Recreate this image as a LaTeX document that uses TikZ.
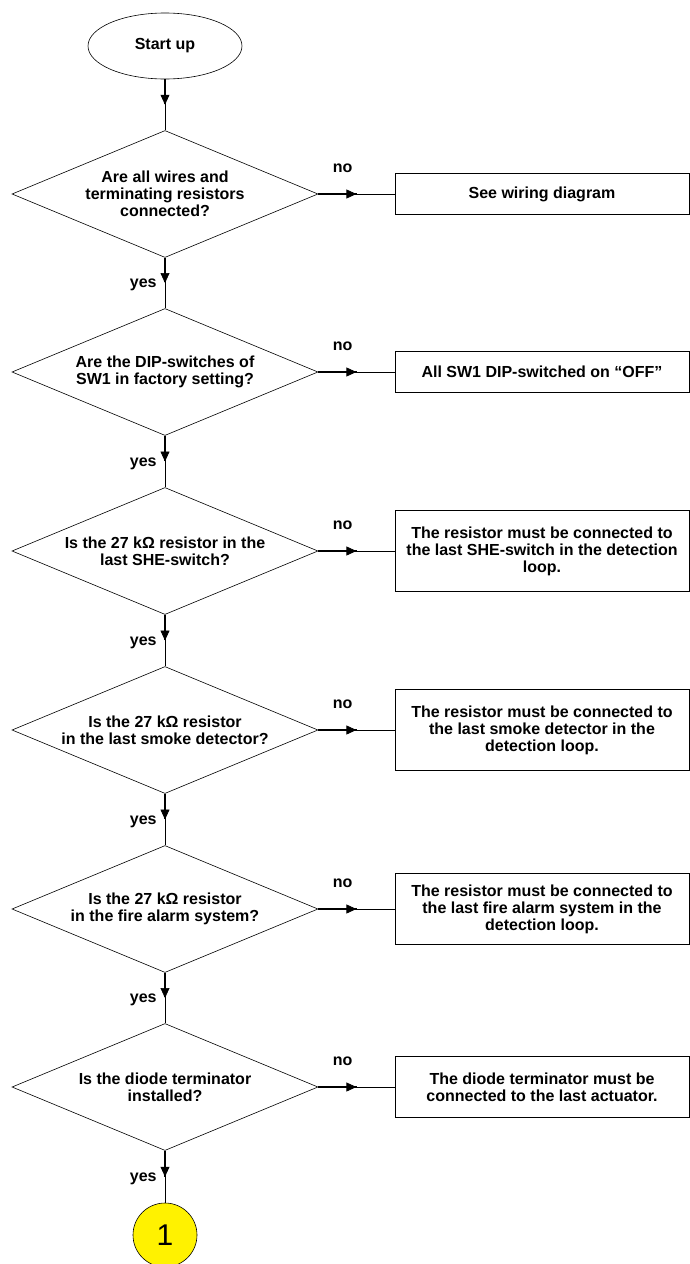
\documentclass[tikz,border=0pt]{standalone}
\usepackage{fontspec}
\setmainfont{Liberation Sans}
\usetikzlibrary{shapes.geometric, arrows.meta, decorations.markings}

\newcommand{\qfont}{\fontsize{16}{17}\selectfont\bfseries}

\tikzset{
    question/.style={diamond, draw, line width=0.6pt, aspect=2.4, minimum width=306pt, minimum height=127pt, inner sep=0pt, align=center, font=\qfont},
    answer/.style={rectangle, draw, line width=1pt, minimum width=294pt, inner sep=0pt, align=center, font=\qfont},
    flow/.style={line width=0.7pt, preaction={draw, line width=1.5pt, shorten >=#1},
        postaction={decorate}, decoration={markings, mark=at position 0.5 with {\arrow{Triangle[length=10pt, width=9pt]}}}},
    branch/.style={font=\qfont, inner sep=0pt}
}

\begin{document}
\begin{tikzpicture}[x=1pt, y=-1pt]
                \useasboundingbox (0,0) rectangle (690,1264);

                \node[ellipse, draw, line width=0.6pt, minimum width=154pt, minimum height=66pt, inner sep=0pt, font=\qfont] (start) at (165,46) {Start up};

                \node[question] (q1) at (165,194)  {Are all wires and\\terminating resistors\\connected?};
                \node[question] (q2) at (165,372)  {Are the DIP-switches of\\SW1 in factory setting?};
                \node[question] (q3) at (165,551)  {Is the 27 kΩ resistor in the\\last SHE-switch?};
                \node[question] (q4) at (165,730)  {Is the 27 kΩ resistor\\in the last smoke detector?};
                \node[question] (q5) at (165,909)  {Is the 27 kΩ resistor\\in the fire alarm system?};
                \node[question] (q6) at (165,1087) {Is the diode terminator\\installed?};

                \node[answer, minimum height=41pt] (a1) at (542,194)  {See wiring diagram};
                \node[answer, minimum height=41pt] (a2) at (542,372)  {All SW1 DIP-switched on “OFF”};
                \node[answer, minimum height=81pt] (a3) at (542,551)  {The resistor must be connected to\\the last SHE-switch in the detection\\loop.};
                \node[answer, minimum height=81pt] (a4) at (542,730)  {The resistor must be connected to\\the last smoke detector in the\\detection loop.};
                \node[answer, minimum height=71pt] (a5) at (542,909)  {The resistor must be connected to\\the last fire alarm system in the\\detection loop.};
                \node[answer, minimum height=61pt] (a6) at (542,1087) {The diode terminator must be\\connected to the last actuator.};

                \node[circle, draw, line width=0.6pt, fill=yellow, minimum size=64pt, inner sep=0pt, font=\fontsize{30}{30}\selectfont] (next) at (165,1235) {1};

                \draw[flow=26pt] (start.south) -- (q1.north);
                \draw[flow=26pt] (q1.south) -- node[branch, left=8pt, pos=0.54] {yes} (q2.north);
                \draw[flow=26pt] (q2.south) -- node[branch, left=8pt, pos=0.54] {yes} (q3.north);
                \draw[flow=26pt] (q3.south) -- node[branch, left=8pt, pos=0.54] {yes} (q4.north);
                \draw[flow=26pt] (q4.south) -- node[branch, left=8pt, pos=0.54] {yes} (q5.north);
                \draw[flow=26pt] (q5.south) -- node[branch, left=8pt, pos=0.54] {yes} (q6.north);
                \draw[flow=26pt] (q6.south) -- node[branch, left=8pt, pos=0.54] {yes} (next.north);

                \draw[flow=38pt] (q1.east) -- node[branch, above=21pt, pos=0.32] {no} (a1.west);
                \draw[flow=38pt] (q2.east) -- node[branch, above=21pt, pos=0.32] {no} (a2.west);
                \draw[flow=38pt] (q3.east) -- node[branch, above=21pt, pos=0.32] {no} (a3.west);
                \draw[flow=38pt] (q4.east) -- node[branch, above=21pt, pos=0.32] {no} (a4.west);
                \draw[flow=38pt] (q5.east) -- node[branch, above=21pt, pos=0.32] {no} (a5.west);
                \draw[flow=38pt] (q6.east) -- node[branch, above=21pt, pos=0.32] {no} (a6.west);
            \end{tikzpicture}
\end{document}
